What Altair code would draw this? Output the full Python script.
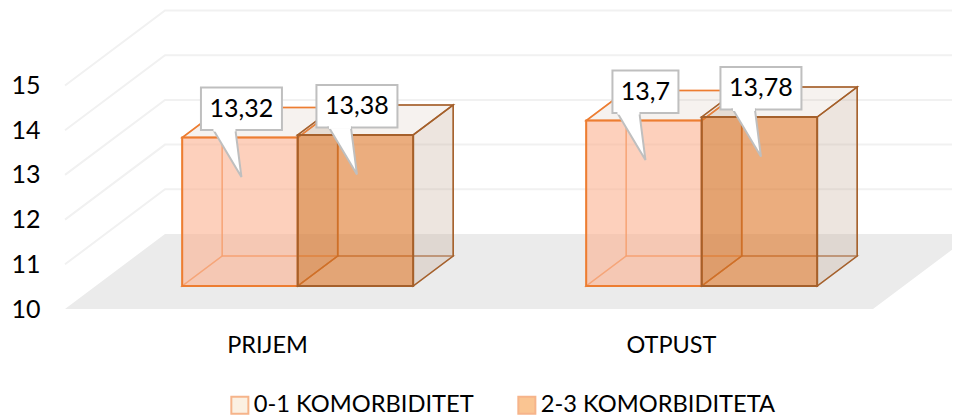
import altair as alt
import pandas as pd

categories = ["PRIJEM", "OTPUST"]
series_names = ["0-1 KOMORBIDITET", "2-3 KOMORBIDITETA"]
series_a = [13.32, 13.70]
series_b = [13.38, 13.78]
labels_a = ["13,32", "13,7"]
labels_b = ["13,38", "13,78"]
y_ticks = [10, 11, 12, 13, 14, 15]

FONT = "Lato"
# projection of the 3D box into the (category, value) plane
X_UNIT, Y_UNIT = 404.0, 44.7          # px per category / per value
DX, DY = 100 / X_UNIT, 75 / Y_UNIT    # shift at full depth
D0, D1 = 0.307, 0.707                 # bar depth range
BAR_W = 115.5 / X_UNIT
BASE = 10.0

xs = alt.Scale(domain=[(44 - 65) / X_UNIT, (952 - 65) / X_UNIT], nice=False, zero=False)
ys = alt.Scale(domain=[10 - 16 / Y_UNIT, 10 + 301 / Y_UNIT], nice=False, zero=False)

label_expr = "datum.value < 1 ? '%s' : '%s'" % tuple(categories)
x_axis = alt.Axis(
    values=[0.5, 1.5], labelExpr=label_expr, title=None, domain=False, ticks=False, grid=False,
    labelFont=FONT, labelFontSize=23.5, labelColor="black", labelPadding=8, labelOverlap=False, labelFlush=False,
)
y_axis = alt.Axis(
    values=y_ticks, format="d", title=None, domain=False, ticks=False, grid=False,
    labelFont=FONT, labelFontSize=25, labelColor="black", labelPadding=4,
)


def X(f="x:Q"):
    return alt.X(f, scale=xs, axis=x_axis)


def Y(f="y:Q"):
    return alt.Y(f, scale=ys, axis=y_axis)


def proj(u, v, d):
    return u + d * DX, v + d * DY


def vface(p_low_a, p_low_b, p_high_a, p_high_b, **style):
    """Face whose left and right edges are vertical."""
    df = pd.DataFrame({
        "x": [p_low_a[0], p_low_b[0]],
        "y": [p_low_a[1], p_low_b[1]],
        "y2": [p_high_a[1], p_high_b[1]],
    })
    return alt.Chart(df).mark_area(clip=True, **style).encode(X(), Y(), y2="y2:Q")


def hface(y_front, x_a, x_b, y_back, x_c, x_d, **style):
    """Parallelogram with horizontal front and back edges, sliced along x."""
    df = pd.DataFrame({
        "x": [x_a, x_c, x_b, x_d],
        "y": [y_front, y_front, y_front, y_back],
        "y2": [y_front, y_back, y_back, y_back],
    })
    return alt.Chart(df).mark_area(clip=True, **style).encode(X(), Y(), y2="y2:Q")


def box(u0, value, col, front, front_a, side, side_a, top_a, w_front):
    u1 = u0 + BAR_W
    out = []
    back = dict(stroke=col, strokeWidth=1.5, strokeOpacity=0.55)
    # back wall
    a, b = proj(u0, BASE, D1), proj(u1, BASE, D1)
    c, d = proj(u0, value, D1), proj(u1, value, D1)
    out.append(vface(a, b, c, d, fill=col, fillOpacity=0, **back))
    # bottom
    f0, f1 = proj(u0, BASE, D0), proj(u1, BASE, D0)
    out.append(hface(f0[1], f0[0], f1[0], a[1], a[0], b[0], fill=col, fillOpacity=0, **back))
    # left wall
    t0, t1 = proj(u0, value, D0), proj(u1, value, D0)
    out.append(vface(f0, a, t0, c, fill=col, fillOpacity=0, **back))
    # right wall
    out.append(vface(f1, b, t1, d, fill=side, fillOpacity=side_a, stroke=col, strokeWidth=1.5))
    # top
    out.append(hface(t0[1], t0[0], t1[0], c[1], c[0], d[0], fill=side, fillOpacity=top_a,
                     stroke=col, strokeWidth=1.5))
    # front
    out.append(vface(f0, f1, t0, t1, fill=front, fillOpacity=front_a, stroke=col,
                     strokeWidth=w_front))
    return out


def callout(u_center, value, text, box_w):
    tip_x, tip_y = u_center + 1.5 / X_UNIT, value - 39.5 / Y_UNIT
    bottom = tip_y + 47 / Y_UNIT
    top = bottom + 42.5 / Y_UNIT
    left, right = tip_x - box_w / 2 / X_UNIT, tip_x + box_w / 2 / X_UNIT
    t_a, t_b = tip_x - 28 / X_UNIT, tip_x - 6 / X_UNIT
    edge = "#BFBFBF"
    rect = alt.Chart(pd.DataFrame({"x": [left], "x2": [right], "y": [bottom], "y2": [top]})).mark_rect(
        fill="white", stroke=edge, strokeWidth=2
    ).encode(X(), x2="x2:Q", y=Y(), y2="y2:Q")
    # tail: a triangle sliced along x
    frac = (t_b - t_a) / (tip_x - t_a)
    tail_df = pd.DataFrame({
        "x": [t_a, t_b, tip_x],
        "y": [bottom, bottom, tip_y],
        "y2": [bottom, bottom + frac * (tip_y - bottom), tip_y],
    })
    tail = alt.Chart(tail_df).mark_area(fill="white", stroke=edge, strokeWidth=2).encode(X(), Y(), y2="y2:Q")
    patch = alt.Chart(pd.DataFrame({"x": [t_a], "x2": [t_b], "y": [bottom]})).mark_rule(
        stroke="white", strokeWidth=3
    ).encode(X(), x2="x2:Q", y=Y())
    label = alt.Chart(pd.DataFrame({"x": [(left + right) / 2], "y": [(top + bottom) / 2], "t": [text]})).mark_text(
        font=FONT, fontSize=25, color="black", align="center", baseline="middle"
    ).encode(X(), Y(), text="t:N")
    return [rect, tail, patch, label]


layers = []

# floor
layers.append(hface(BASE, 0, 2, BASE + DY, DX, 2 + DX, fill="#EBEBEB"))

# walls' grid lines
grid_rows = []
for v in y_ticks[1:]:
    for u, d in [(0, 0), (0, 1), (2, 1)]:
        px, py = proj(u, v, d)
        grid_rows.append({"x": px, "y": py, "g": v, "i": len(grid_rows)})
layers.append(
    alt.Chart(pd.DataFrame(grid_rows)).mark_line(color="#F1F1F1", strokeWidth=2, clip=True).encode(
        X(), Y(), detail="g:N", order="i:Q"
    )
)

# boxes
ORANGE, BROWN = "#ED7D31", "#A5602B"
for i in range(2):
    u_a = i + 0.5 - BAR_W
    u_b = i + 0.5
    layers += box(u_a, series_a[i], ORANGE, "#FBB18F", 0.6, "#C3A894", 0.3, 0.15, 2)
    layers += box(u_b, series_b[i], BROWN, "#DE7628", 0.6, "#C3A894", 0.3, 0.15, 2)

# callouts
for i in range(2):
    ca = proj(i + 0.5 - BAR_W / 2, series_a[i], D0)
    cb = proj(i + 0.5 + BAR_W / 2, series_b[i], D0)
    layers += callout(ca[0], ca[1], labels_a[i], 81 if len(labels_a[i]) > 4 else 66)
    layers += callout(cb[0], cb[1], labels_b[i], 81)

# legend
legend_df = pd.DataFrame({"x": [0.5, 0.5], "y": [10, 10], "s": series_names})
layers.append(
    alt.Chart(legend_df).mark_square(size=0, opacity=0, filled=True).encode(
        X(), Y(),
        fill=alt.Fill("s:N", scale=alt.Scale(domain=series_names, range=["#FBF0E2", "#FAC592"]),
                      legend=alt.Legend(
                          title=None, orient="none", legendX=184, legendY=385, direction="horizontal",
                          columns=2, symbolType="square", symbolSize=290, symbolOpacity=1, symbolStrokeWidth=2,
                          labelFont=FONT, labelFontSize=23.7, labelColor="black", columnPadding=40, labelOffset=2,
                          symbolStrokeColor="#F6B48A", labelLimit=0,
                      )),
    )
)

chart = alt.layer(*layers).properties(
    width=908, height=317, autosize="none",
    padding={"left": 36, "top": 0, "right": 0, "bottom": 94},
).configure_view(stroke=None)

chart.save("out.html", embed_options={"renderer": "svg", "actions": False})
